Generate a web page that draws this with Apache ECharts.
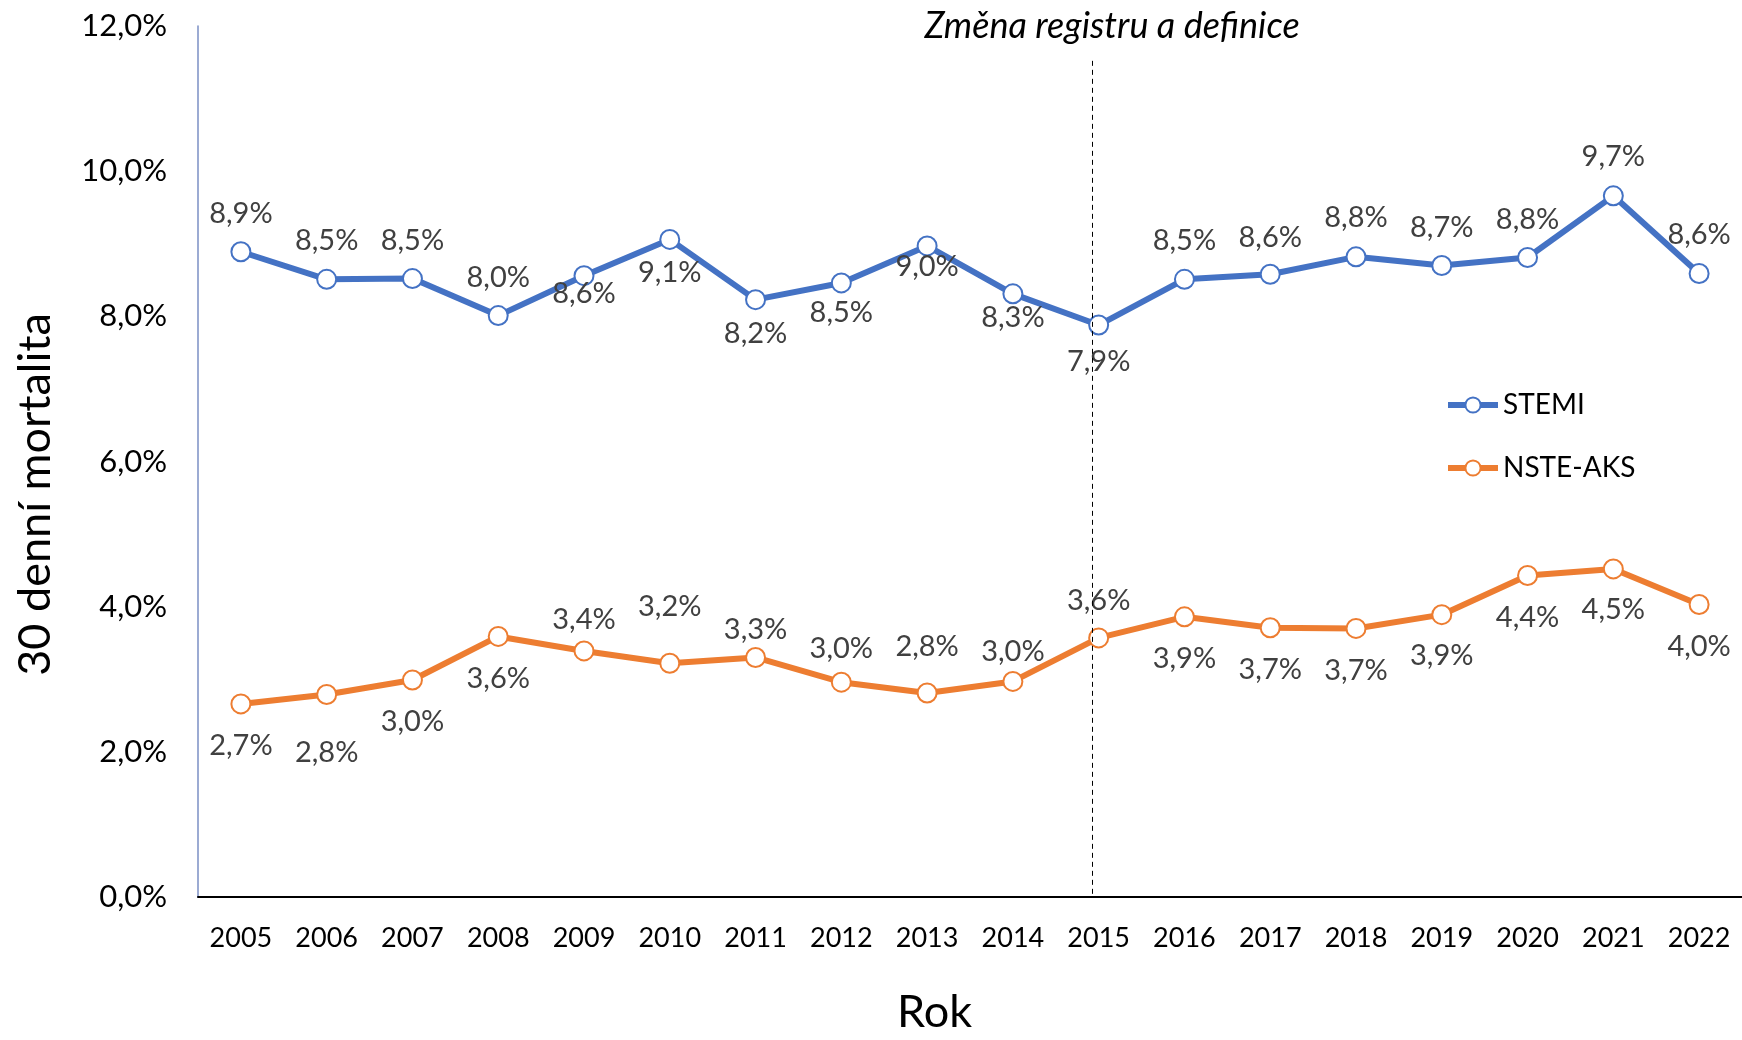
<!DOCTYPE html>
<html>
<head>
<meta charset="utf-8">
<script src="https://cdn.jsdelivr.net/npm/echarts@6/dist/echarts.min.js"></script>
<style>
html,body{margin:0;padding:0;background:#fff;}
#chart{width:1742px;height:1040px;}
</style>
</head>
<body>
<div id="chart"></div>
<script>
// ---- data ----
const years = ['2005','2006','2007','2008','2009','2010','2011','2012','2013','2014','2015','2016','2017','2018','2019','2020','2021','2022'];
const stemi = [8.89, 8.51, 8.52, 8.01, 8.56, 9.06, 8.23, 8.46, 8.97, 8.31, 7.88, 8.51, 8.58, 8.82, 8.70, 8.81, 9.66, 8.59];
const nsteAks = [2.66, 2.79, 2.99, 3.59, 3.39, 3.22, 3.30, 2.96, 2.81, 2.97, 3.57, 3.86, 3.71, 3.70, 3.89, 4.43, 4.52, 4.03];
const yTicks = [0, 2, 4, 6, 8, 10, 12];
const changeYearPos = 9.93;   // position of the "register change" divider on the category scale
const changeTop = 11.52;
const changeLabel = 'Změna registru a definice';

// ---- styles (label vertical offsets per point) ----
const stemiDy = [-38,-39,-38,-38,18,33,34,30,21,24,37,-39,-37,-39,-38,-38,-39,-39];
const nsteDy  = [42,58,42,42,-31,-57,-28,-34,-46,-30,-37,42,42,42,41,42,41,42];

const FONT = 'Lato';
const fmt = v => v.toFixed(1).replace('.', ',') + '%';

function build(values, dys) {
  return values.map((v, i) => ({
    value: v,
    label: { offset: [0, dys[i]] }
  }));
}

const chart = echarts.init(document.getElementById('chart'), null, {renderer: 'canvas'});

const lineSeries = (name, color, values, dys) => ({
  name: name,
  type: 'line',
  data: build(values, dys),
  xAxisIndex: 0,
  yAxisIndex: 0,
  symbol: 'circle',
  symbolSize: 19,
  lineStyle: { color: color, width: 6 },
  itemStyle: { color: '#ffffff', borderColor: color, borderWidth: 2 },
  label: {
    show: true,
    position: 'inside',
    formatter: p => fmt(p.value),
    fontFamily: FONT,
    fontSize: 29,
    color: '#404040'
  },
  z: 3
});

chart.setOption({
  animation: false,
  backgroundColor: '#ffffff',
  grid: { left: 198, right: -4, top: 26, bottom: 127, containLabel: false },
  legend: {
    orient: 'vertical',
    left: 1440,
    top: 384,
    itemWidth: 50,
    itemHeight: 19,
    itemGap: 31,
    lineStyle: { width: 6 },
    textStyle: { fontFamily: FONT, fontSize: 28, color: '#000', lineHeight: 32 },
    data: ['STEMI', 'NSTE-AKS']
  },
  xAxis: [{
    type: 'category',
    data: years,
    boundaryGap: true,
    axisLine: { lineStyle: { color: '#000', width: 2 } },
    axisTick: { show: false },
    axisLabel: { fontFamily: FONT, fontSize: 27, color: '#000', margin: 28 },
    name: 'Rok',
    nameLocation: 'middle',
    nameGap: 93,
    nameTextStyle: { fontFamily: FONT, fontSize: 45, color: '#000', padding: [0, 71, 0, 0] }
  }, {
    type: 'value',
    min: -0.5,
    max: years.length - 0.5,
    show: false
  }],
  yAxis: {
    type: 'value',
    min: 0,
    max: 12,
    interval: 2,
    axisLine: { show: true, onZero: false, lineStyle: { color: '#7b8fc4', width: 1.5 } },
    axisTick: { show: false },
    splitLine: { show: false },
    axisLabel: {
      fontFamily: FONT, fontSize: 31, color: '#000', margin: 31,
      formatter: v => yTicks.includes(v) ? fmt(v) : ''
    },
    name: '30 denní mortalita',
    nameLocation: 'middle',
    nameGap: 140,
    nameTextStyle: { fontFamily: FONT, fontSize: 45, color: '#000', padding: [0, 66, 0, 0] }
  },
  series: [
    lineSeries('STEMI', '#4472C4', stemi, stemiDy),
    lineSeries('NSTE-AKS', '#ED7D31', nsteAks, nsteDy),
    {
      name: 'divider',
      type: 'line',
      xAxisIndex: 1,
      yAxisIndex: 0,
      data: [],
      silent: true,
      markLine: {
        symbol: ['none', 'none'],
        silent: true,
        label: { show: false },
        lineStyle: { color: '#000', type: [5, 4], width: 1 },
        data: [[{ coord: [changeYearPos, changeTop] }, { coord: [changeYearPos, 0] }]]
      }
    }
  ],
  graphic: [{
    type: 'text',
    x: 1112,
    y: 26,
    style: {
      text: changeLabel,
      font: 'italic 36px ' + FONT,
      fill: '#000',
      align: 'center',
      verticalAlign: 'middle'
    }
  }]
});
</script>
</body>
</html>
